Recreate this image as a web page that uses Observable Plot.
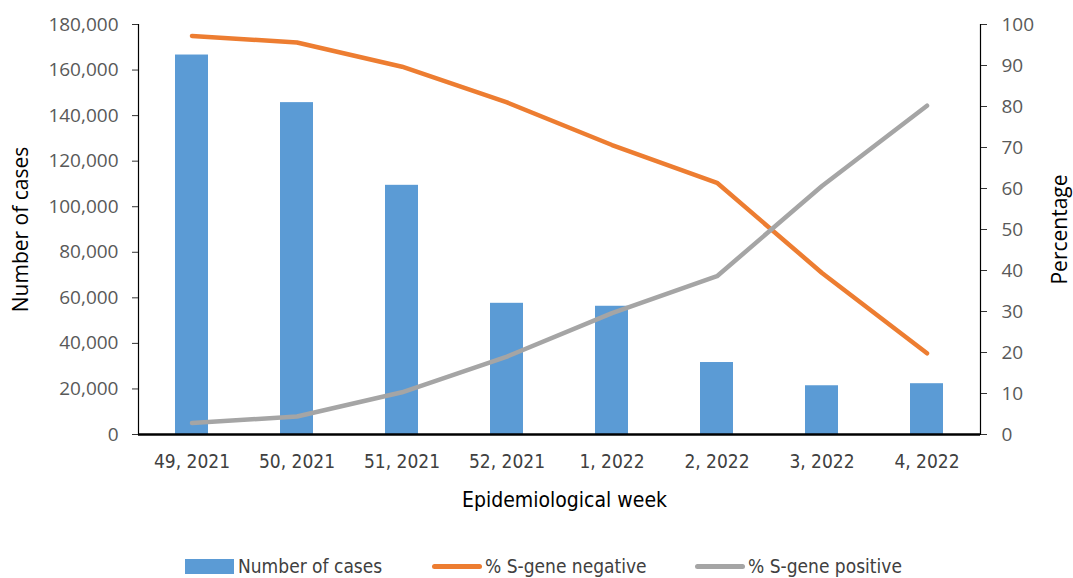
<!DOCTYPE html>
<html>
<head>
<meta charset="utf-8">
<script src="https://cdn.jsdelivr.net/npm/d3@7"></script>
<script src="https://cdn.jsdelivr.net/npm/@observablehq/plot@0.6"></script>
<style>
  html, body { margin: 0; padding: 0; background: #fff; }
  #chart { position: relative; width: 1073px; height: 578px; }
  #legend { position: relative; height: 38px; font-family: "Liberation Sans Narrow", "DejaVu Sans Condensed", "Liberation Sans", sans-serif; font-size: 19px; color: #404040; }
  .item { position: absolute; top: 15px; display: flex; align-items: center; white-space: nowrap; }
  .sw-bar { width: 49px; height: 15px; background: #5B9BD5; margin-right: 4px; }
  .sw-line { width: 50px; height: 5px; border-radius: 3px; margin-right: 3px; }
</style>
</head>
<body>
<div id="chart"></div>
<script>
const weeks = ["49, 2021", "50, 2021", "51, 2021", "52, 2021", "1, 2022", "2, 2022", "3, 2022", "4, 2022"];
const cases = [166600, 145700, 109400, 57600, 56300, 31600, 21400, 22300];
const sNegative = [97.2, 95.6, 89.7, 81.0, 70.6, 61.4, 39.4, 19.8];
const sPositive = [2.8, 4.4, 10.3, 19.0, 29.6, 38.6, 60.6, 80.2];
const caseTicks = d3.range(0, 180001, 20000);
const pctTicks = d3.range(0, 101, 10);
const seriesNames = ["Number of cases", "% S-gene negative", "% S-gene positive"];
const colors = ["#5B9BD5", "#ED7D31", "#A5A5A5"];

const k = 180000 / 100; // right axis factor
const rows = weeks.map((w, i) => ({week: w, cases: cases[i], neg: sNegative[i], pos: sPositive[i]}));

const tickFont = '"Open Sans", sans-serif';
const xFont = '"Liberation Sans Narrow", "DejaVu Sans Condensed", "Liberation Sans", sans-serif';

const plot = Plot.plot({
  width: 1073,
  height: 540,
  marginLeft: 138,
  marginRight: 93,
  marginTop: 24,
  marginBottom: 106,
  style: {background: "#fff", overflow: "visible"},
  x: {domain: weeks, paddingInner: 0.686, paddingOuter: 0.343, label: null},
  y: {domain: [0, 180000], label: null},
  marks: [
    Plot.barY(rows, {x: "week", y: "cases", fill: colors[0]}),
    Plot.lineY(rows, {x: "week", y: d => d.neg * k, stroke: colors[1], strokeWidth: 4.5, strokeLinecap: "round", strokeLinejoin: "round"}),
    Plot.lineY(rows, {x: "week", y: d => d.pos * k, stroke: colors[2], strokeWidth: 4.5, strokeLinecap: "round", strokeLinejoin: "round"}),
    Plot.frame({anchor: "left", stroke: "#000", strokeWidth: 1.2}),
    Plot.frame({anchor: "right", stroke: "#000", strokeWidth: 1.2}),
    Plot.ruleY([0], {stroke: "#000", strokeWidth: 2.5}),
    Plot.axisY(caseTicks, {anchor: "left", tickSize: 6, tickPadding: 14, tickFormat: d3.format(","), fill: "#595959", stroke: "#333", fontSize: 19, fontFamily: tickFont, label: null}),
    Plot.axisY(pctTicks.map(v => v * k), {anchor: "right", tickSize: 6, tickPadding: 15, tickFormat: d => String(Math.round(d / k)), fill: "#595959", stroke: "#333", fontSize: 19, fontFamily: tickFont, label: null}),
    Plot.axisX({anchor: "bottom", tickSize: 0, tickPadding: 20, fill: "#404040", fontSize: 19, fontFamily: xFont, label: null}),
    Plot.text(["Number of cases"], {frameAnchor: "left", dx: -117, rotate: -90, fontSize: 21, fill: "#000", fontFamily: tickFont, textAnchor: "middle", lineAnchor: "middle"}),
    Plot.text(["Percentage"], {frameAnchor: "right", dx: 80, rotate: -90, fontSize: 21, fill: "#000", fontFamily: tickFont, textAnchor: "middle", lineAnchor: "middle"}),
    Plot.text(["Epidemiological week"], {frameAnchor: "bottom", dx: 5, dy: 66, fontSize: 21, fill: "#000", fontFamily: xFont, textAnchor: "middle", lineAnchor: "middle"})
  ]
});

const chart = document.getElementById("chart");
chart.appendChild(plot);

const legend = document.createElement("div");
legend.id = "legend";
const lefts = [185, 432, 695];
seriesNames.forEach((name, i) => {
  const item = document.createElement("div");
  item.className = "item";
  item.style.left = lefts[i] + "px";
  const sw = document.createElement("span");
  sw.className = i === 0 ? "sw-bar" : "sw-line";
  sw.style.background = colors[i];
  const t = document.createElement("span");
  t.textContent = name;
  item.appendChild(sw);
  item.appendChild(t);
  legend.appendChild(item);
});
chart.appendChild(legend);
</script>
</body>
</html>
